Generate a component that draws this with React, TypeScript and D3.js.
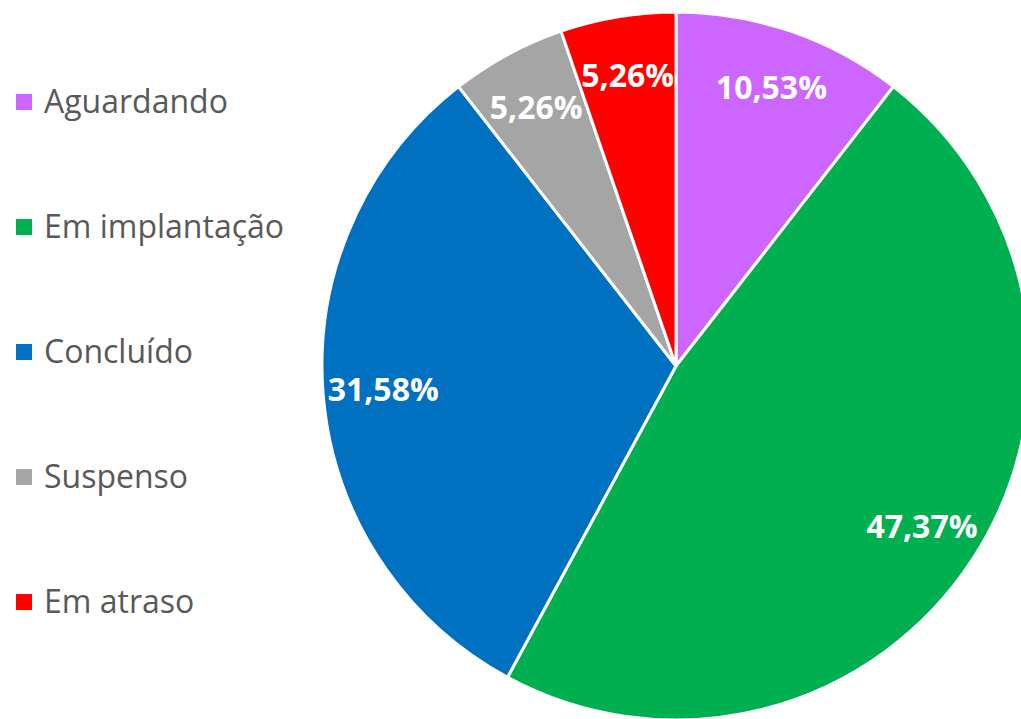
import React from "react";
import * as d3 from "d3";

const categories = ["Aguardando", "Em implantação", "Concluído", "Suspenso", "Em atraso"];
const values = [2, 9, 6, 1, 1];
const labels = ["10,53%", "47,37%", "31,58%", "5,26%", "5,26%"];
const colors = ["#CC66FF", "#00B050", "#0070C0", "#A5A5A5", "#FF0000"];

export default function App() {
  const W = 1021, H = 719;
  const cx = 676, cy = 366, r = 354;
  const pie = d3.pie<number>().sort(null).value((d) => d)(values);
  const arc = d3.arc<d3.PieArcDatum<number>>().innerRadius(0).outerRadius(r);
  const labelArc = d3.arc<d3.PieArcDatum<number>>().innerRadius(r * 0.83).outerRadius(r * 0.83);
  return (
    <svg width={W} height={H} style={{ position: "absolute", left: 0, top: 0, display: "block" }}>
      <rect width={W} height={H} fill="#fff" />
      <g transform={`translate(${cx},${cy})`}>
        {pie.map((p, i) => (
          <path key={i} d={arc(p) || ""} fill={colors[i]} stroke="#fff" strokeWidth={3} strokeLinejoin="round" />
        ))}
        {pie.map((p, i) => {
          const [x, y] = labelArc.centroid(p);
          return (
            <text key={i} x={x} y={y} dy="0.35em" textAnchor="middle" fill="#fff"
              fontFamily="'Open Sans', sans-serif" fontWeight="bold" fontSize={32}>
              {labels[i]}
            </text>
          );
        })}
      </g>
      <g>
        {categories.map((c, i) => (
          <g key={i} transform={`translate(16, ${102 + i * 125})`}>
            <rect x={0} y={-8} width={16} height={16} fill={colors[i]} />
            <text x={28} y={0} dy="0.35em" fill="#595959" fontFamily="'Open Sans', sans-serif" fontSize={32}>
              {c}
            </text>
          </g>
        ))}
      </g>
    </svg>
  );
}
